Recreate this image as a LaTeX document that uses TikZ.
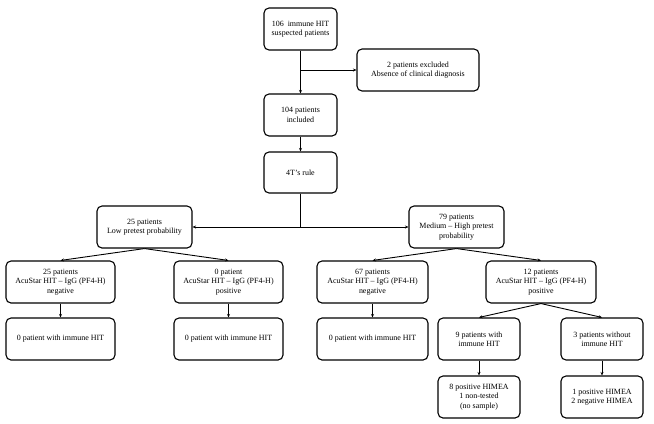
\documentclass[tikz,border=0pt]{standalone}
\usepackage{fontspec}
\setmainfont{Liberation Serif}
\usetikzlibrary{arrows.meta}
\tikzset{
    box/.style={draw, rounded corners=5bp, line width=1.1bp, align=center, inner sep=1bp,
        minimum height=42bp, font=\fontsize{8}{9.5}\selectfont},
    arr/.style={-{Stealth[length=3.5bp, width=3bp]}, line width=0.9bp}
}
\begin{document}
\begin{tikzpicture}[x=1bp, y=-1bp]
    \useasboundingbox (0,0) rectangle (654,423);
    \node[box, minimum width=73bp] (n106) at (300.5,29) {106\ \ immune HIT\\suspected patients};
    \node[box, minimum width=122bp] (excl) at (418,70) {2 patients excluded\\Absence of clinical diagnosis};
    \node[box, minimum width=73bp] (n104) at (300.5,115) {104 patients\\included};
    \node[box, minimum width=73bp, minimum height=41bp] (rule) at (300.5,172.5) {4T’s rule};
    \node[box, minimum width=95bp] (low) at (144.5,227) {25 patients\\Low pretest probability};
    \node[box, minimum width=95bp] (high) at (456.5,227) {79 patients\\Medium -- High pretest\\probability};
    \node[box, minimum width=109bp] (lowneg) at (60.5,282) {25 patients\\AcuStar HIT -- IgG (PF4-H)\\negative};
    \node[box, minimum width=109bp] (lowpos) at (228.5,282) {0 patient\\AcuStar HIT -- IgG (PF4-H)\\positive};
    \node[box, minimum width=111bp] (highneg) at (372.5,282) {67 patients\\AcuStar HIT -- IgG (PF4-H)\\negative};
    \node[box, minimum width=110bp] (highpos) at (541,282) {12 patients\\AcuStar HIT -- IgG (PF4-H)\\positive};
    \node[box, minimum width=109bp] (hit1) at (60.5,339) {0 patient with immune HIT};
    \node[box, minimum width=109bp] (hit2) at (228.5,339) {0 patient with immune HIT};
    \node[box, minimum width=111bp] (hit3) at (372.5,339) {0 patient with immune HIT};
    \node[box, minimum width=82bp] (with) at (479,339) {9 patients with\\immune HIT};
    \node[box, minimum width=82bp] (without) at (602,339) {3 patients without\\immune HIT};
    \node[box, minimum width=82bp] (himea1) at (479,397) {8 positive HIMEA\\1 non-tested\\(no sample)};
    \node[box, minimum width=82bp] (himea2) at (602,397) {1 positive HIMEA\\2 negative HIMEA};

    \draw[arr] (n106) -- (n104);
    \draw[arr] (n106.south |- excl.west) -- (excl.west);
    \draw[arr] (n104) -- (rule);
    \draw[arr] (rule.south) |- (low.east);
    \draw[arr] (rule.south) |- (high.west);
    \draw[arr] (low.south) -- (lowneg.north);
    \draw[arr] (low.south) -- (lowpos.north);
    \draw[arr] (high.south) -- (highneg.north);
    \draw[arr] (high.south) -- (highpos.north);
    \draw[arr] (lowneg) -- (hit1);
    \draw[arr] (lowpos) -- (hit2);
    \draw[arr] (highneg) -- (hit3);
    \draw[arr] (highpos.south) -- (with.north);
    \draw[arr] (highpos.south) -- (without.north);
    \draw[arr] (with) -- (himea1);
    \draw[arr] (without) -- (himea2);
\end{tikzpicture}
\end{document}
